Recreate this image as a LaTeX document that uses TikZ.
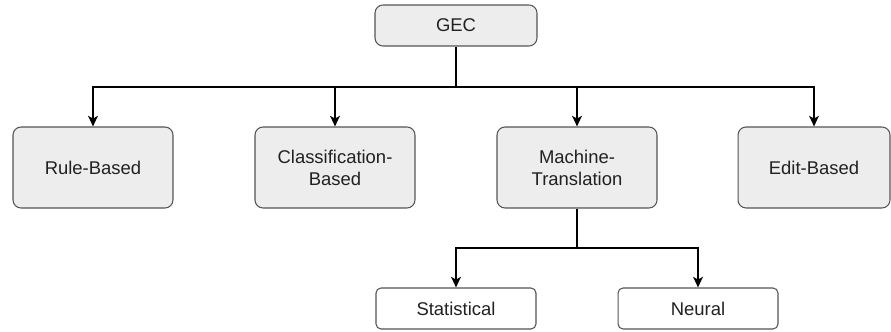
\documentclass[tikz,border=0pt]{standalone}
\usepackage{fontspec}
\setmainfont{Liberation Sans}
\usepackage{tikz}
\usetikzlibrary{arrows.meta,calc,positioning}
\definecolor{boxgray}{rgb}{0.93,0.93,0.93}
\definecolor{edgegray}{rgb}{0.33,0.33,0.33}
\definecolor{textgray}{rgb}{0.13,0.13,0.13}
\tikzset{
  bigbox/.style={draw=edgegray, fill=boxgray, rounded corners=0.16cm, line width=0.6pt,
    minimum width=3.2cm, minimum height=1.62cm, align=center, text=textgray,
    font=\fontsize{10.5}{12.5}\selectfont},
  smallbox/.style={draw=edgegray, fill=white, rounded corners=0.1cm, line width=0.6pt,
    minimum width=3.2cm, minimum height=0.82cm, align=center, text=textgray,
    font=\fontsize{10.5}{12.5}\selectfont},
  link/.style={line width=1.1pt},
  arrowlink/.style={line width=1.1pt, -{Stealth[length=6pt,width=5.5pt,inset=1.5pt]}}
}

\begin{document}
\begin{tikzpicture}[x=0.02cm, y=-0.02cm]
  \useasboundingbox (0,0) rectangle (891,331);
  \coordinate (bus) at (456,87);
  \coordinate (subbus) at (577,248);

  \node [bigbox, minimum height=0.82cm, minimum width=3.24cm] (gec) at (456,25.5) {GEC};
  \node [bigbox] (rule) at (93,167.5) {Rule-Based};
  \node [bigbox] (class) at (335,167.5) {Classification-\\Based};
  \node [bigbox] (mt) at (577,167.5) {Machine-\\Translation};
  \node [bigbox, minimum width=3.04cm] (edit) at (814,167.5) {Edit-Based};
  \node [smallbox] (stat) at (456,308.5) {Statistical};
  \node [smallbox] (neural) at (698,308.5) {Neural};

  \draw [link] (gec.south) -- (bus);
  \draw [arrowlink] (bus) -| (rule.north);
  \draw [arrowlink] (bus) -| (class.north);
  \draw [arrowlink] (bus) -| (mt.north);
  \draw [arrowlink] (bus) -| (edit.north);

  \draw [link] (mt.south) -- (subbus);
  \draw [arrowlink] (subbus) -| (stat.north);
  \draw [arrowlink] (subbus) -| (neural.north);
\end{tikzpicture}
\end{document}
